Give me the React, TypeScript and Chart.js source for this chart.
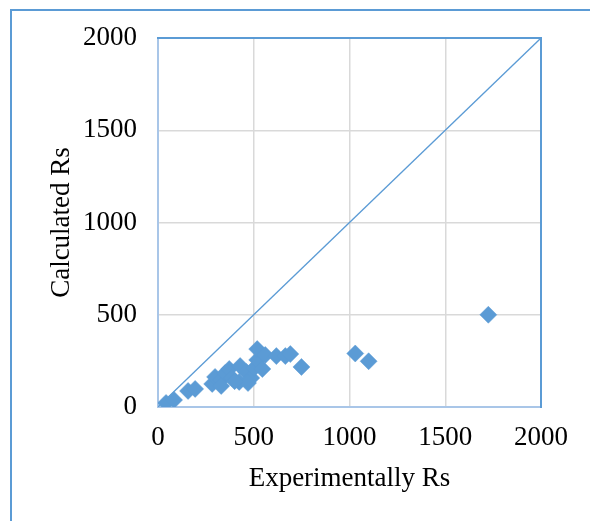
import React, { useEffect, useRef } from "react";
import { Chart, registerables } from "chart.js";

Chart.register(...registerables);

// Experimental vs calculated Rs
const experimentalRs = [42, 84, 157, 194, 283, 298, 330, 351, 372, 387, 330, 424, 429, 461, 487, 503, 518, 518, 545, 560, 618, 665, 691, 749, 470, 400, 1030, 1100, 1725];
const calculatedRs = [22, 38, 87, 98, 125, 163, 146, 184, 206, 157, 114, 136, 222, 190, 157, 211, 255, 314, 206, 282, 276, 276, 287, 217, 130, 140, 290, 248, 500];

// Axis range, shared by both axes and the y = x reference line
const axisMin = 0;
const axisMax = 2000;
const axisStep = 500;

const BLUE = "#5b9bd5";
const LIGHT_BLUE = "#a9c6e8";
const FONT = "'Liberation Serif', 'Times New Roman', serif";

const framePlugin = {
  id: "frame",
  beforeDraw(chart: any) {
    const { ctx, width, height } = chart;
    ctx.save();
    ctx.fillStyle = "#ffffff";
    ctx.fillRect(0, 0, width, height);
    ctx.strokeStyle = BLUE;
    ctx.lineWidth = 2;
    ctx.beginPath();
    ctx.moveTo(11, height);
    ctx.lineTo(11, 10);
    ctx.lineTo(width, 10);
    ctx.stroke();
    ctx.restore();
  },
  beforeDatasetsDraw(chart: any) {
    const { ctx, chartArea } = chart;
    const { left, right, top, bottom } = chartArea;
    ctx.save();
    ctx.lineWidth = 2;
    ctx.strokeStyle = LIGHT_BLUE;
    ctx.beginPath();
    ctx.moveTo(left, top);
    ctx.lineTo(left, bottom);
    ctx.lineTo(right, bottom);
    ctx.stroke();
    ctx.strokeStyle = BLUE;
    ctx.beginPath();
    ctx.moveTo(left - 1, top);
    ctx.lineTo(right, top);
    ctx.lineTo(right, bottom + 1);
    ctx.stroke();
    ctx.restore();
  },
};

const plainTick = (value: any) => String(value);

export default function App() {
  const canvasRef = useRef<HTMLCanvasElement | null>(null);

  useEffect(() => {
    if (!canvasRef.current) return;
    const points = experimentalRs.map((x, i) => ({ x, y: calculatedRs[i] }));
    const chart = new Chart(canvasRef.current, {
      type: "scatter",
      data: {
        datasets: [
          {
            label: "Rs",
            data: points,
            pointStyle: "rectRot",
            pointRadius: 8.5,
            pointBorderWidth: 0.5,
            backgroundColor: BLUE,
            borderColor: BLUE,
          },
          {
            type: "line",
            label: "y = x",
            data: [
              { x: axisMin, y: axisMin },
              { x: axisMax, y: axisMax },
            ],
            borderColor: BLUE,
            borderWidth: 1.3,
            pointRadius: 0,
            fill: false,
          },
        ],
      },
      options: {
        responsive: false,
        animation: false,
        layout: { padding: { left: 0, top: 38, right: 49, bottom: 0 } },
        plugins: { legend: { display: false }, tooltip: { enabled: false } },
        scales: {
          x: {
            type: "linear",
            min: axisMin,
            max: axisMax,
            afterFit(scale: any) {
              scale.height = 114;
            },
            ticks: {
              stepSize: axisStep,
              padding: 15,
              color: "#000",
              font: { family: FONT, size: 27 },
              callback: plainTick,
            },
            grid: { color: "#d9d9d9", lineWidth: 1.5, drawTicks: false },
            border: { display: false },
            title: {
              display: true,
              text: "Experimentally Rs",
              color: "#000",
              font: { family: FONT, size: 27 },
              padding: { top: 0, bottom: 26 },
            },
          },
          y: {
            type: "linear",
            min: axisMin,
            max: axisMax,
            afterFit(scale: any) {
              scale.width = 158;
            },
            ticks: {
              stepSize: axisStep,
              padding: 21,
              color: "#000",
              font: { family: FONT, size: 27 },
              callback: plainTick,
            },
            grid: { color: "#d9d9d9", lineWidth: 1.5, drawTicks: false },
            border: { display: false },
            title: {
              display: true,
              text: "Calculated Rs",
              color: "#000",
              font: { family: FONT, size: 27 },
              padding: { top: 46, bottom: 0 },
            },
          },
        },
      },
      plugins: [framePlugin],
    });
    return () => chart.destroy();
  }, []);

  return (
    <div style={{ position: "fixed", left: 0, top: 0, width: 590, height: 521 }}>
      <canvas ref={canvasRef} width={590} height={521} style={{ display: "block" }} />
    </div>
  );
}
